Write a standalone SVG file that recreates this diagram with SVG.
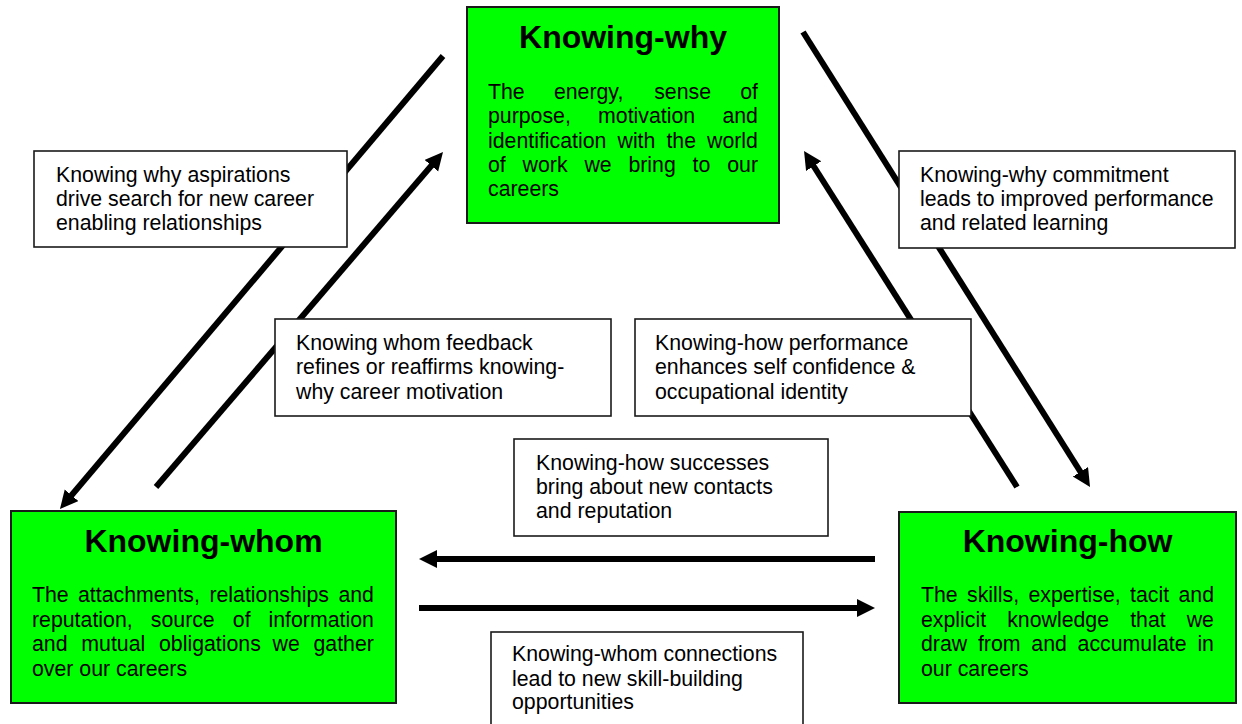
<svg xmlns="http://www.w3.org/2000/svg" width="1242" height="724" viewBox="0 0 1242 724">
  <style>
    .bg { fill: #ffffff; }
    .conn { stroke: #000; stroke-width: 6; fill: none; marker-end: url(#head); }
    .node { fill: #00ff00; stroke: #1a1a1a; stroke-width: 2; }
    .lbl { fill: #ffffff; stroke: #1a1a1a; stroke-width: 1.6; }
    .title { font-family: "Liberation Sans", Arial, sans-serif; font-weight: bold; font-size: 32px; fill: #000; text-anchor: middle; }
    .body { font-family: "Liberation Sans", Arial, sans-serif; font-size: 21.3px; fill: #000; }
  </style>
  <defs>
    <marker id="head" markerUnits="userSpaceOnUse" markerWidth="20" markerHeight="20" refX="2" refY="9" orient="auto">
      <path d="M0,0 L18,9 L0,18 z" fill="#000"/>
    </marker>
  </defs>

  <rect class="bg" x="0" y="0" width="1242" height="724"/>

  <!-- connectors between the three competencies -->
  <g id="connectors">
    <line class="conn" x1="443" y1="56" x2="70.3" y2="496.8"/>
    <line class="conn" x1="156" y1="487" x2="432.6" y2="164.2"/>
    <line class="conn" x1="803" y1="32" x2="1081.5" y2="473.5"/>
    <line class="conn" x1="1017" y1="487" x2="812.6" y2="164.5"/>
    <line class="conn" x1="875" y1="559" x2="435" y2="559"/>
    <line class="conn" x1="419" y1="608" x2="859" y2="608"/>
  </g>

  <!-- connector labels -->
  <g id="label-why-to-whom">
    <rect class="lbl" x="34" y="151" width="313" height="96"/>
    <text class="body"><tspan x="56" y="182">Knowing why aspirations</tspan><tspan x="56" y="206">drive search for new career</tspan><tspan x="56" y="230">enabling relationships</tspan></text>
  </g>
  <g id="label-whom-to-why">
    <rect class="lbl" x="275" y="319" width="336" height="97"/>
    <text class="body"><tspan x="296" y="350">Knowing whom feedback</tspan><tspan x="296" y="374">refines or reaffirms knowing-</tspan><tspan x="296" y="399">why career motivation</tspan></text>
  </g>
  <g id="label-why-to-how">
    <rect class="lbl" x="899" y="151" width="336" height="97"/>
    <text class="body"><tspan x="920" y="182">Knowing-why commitment</tspan><tspan x="920" y="206">leads to improved performance</tspan><tspan x="920" y="230">and related learning</tspan></text>
  </g>
  <g id="label-how-to-why">
    <rect class="lbl" x="635" y="319" width="336" height="97"/>
    <text class="body"><tspan x="655" y="350">Knowing-how performance</tspan><tspan x="655" y="374">enhances self confidence &amp;</tspan><tspan x="655" y="399">occupational identity</tspan></text>
  </g>
  <g id="label-how-to-whom">
    <rect class="lbl" x="514" y="439" width="314" height="97"/>
    <text class="body"><tspan x="536" y="470">Knowing-how successes</tspan><tspan x="536" y="494">bring about new contacts</tspan><tspan x="536" y="518">and reputation</tspan></text>
  </g>
  <g id="label-whom-to-how">
    <rect class="lbl" x="491" y="632" width="312" height="100"/>
    <text class="body"><tspan x="512" y="661">Knowing-whom connections</tspan><tspan x="512" y="686">lead to new skill-building</tspan><tspan x="512" y="709">opportunities</tspan></text>
  </g>

  <!-- competency nodes -->
  <g id="knowing-why">
    <rect class="node" x="467" y="7" width="312" height="216"/>
    <text class="title" x="623" y="48">Knowing-why</text>
    <text class="body">
      <tspan x="488" y="99">The</tspan><tspan x="553.9" y="99">energy,</tspan><tspan x="654.2" y="99">sense</tspan><tspan x="740.2" y="99">of</tspan>
      <tspan x="488" y="123">purpose,</tspan><tspan x="598.1" y="123">motivation</tspan><tspan x="722.4" y="123">and</tspan>
      <tspan x="488" y="148">identification</tspan><tspan x="617.5" y="148">with</tspan><tspan x="666.4" y="148">the</tspan><tspan x="707" y="148">world</tspan>
      <tspan x="488" y="172">of</tspan><tspan x="522.6" y="172">work</tspan><tspan x="584.4" y="172">we</tspan><tspan x="628.4" y="172">bring</tspan><tspan x="692.6" y="172">to</tspan><tspan x="727.2" y="172">our</tspan>
      <tspan x="488" y="196">careers</tspan>
    </text>
  </g>

  <g id="knowing-whom">
    <rect class="node" x="11" y="511" width="385" height="192"/>
    <text class="title" x="203.5" y="552">Knowing-whom</text>
    <text class="body">
      <tspan x="32" y="602">The</tspan><tspan x="78" y="602">attachments,</tspan><tspan x="209.4" y="602">relationships</tspan><tspan x="338.4" y="602">and</tspan>
      <tspan x="32" y="627">reputation,</tspan><tspan x="150.8" y="627">source</tspan><tspan x="232.8" y="627">of</tspan><tspan x="268.5" y="627">information</tspan>
      <tspan x="32" y="651">and</tspan><tspan x="81.3" y="651">mutual</tspan><tspan x="159" y="651">obligations</tspan><tspan x="272.5" y="651">we</tspan><tspan x="313.5" y="651">gather</tspan>
      <tspan x="32" y="676">over our careers</tspan>
    </text>
  </g>

  <g id="knowing-how">
    <rect class="node" x="899" y="512" width="337" height="191"/>
    <text class="title" x="1067.5" y="552">Knowing-how</text>
    <text class="body">
      <tspan x="921" y="602">The</tspan><tspan x="967" y="602">skills,</tspan><tspan x="1028.4" y="602">expertise,</tspan><tspan x="1130.1" y="602">tacit</tspan><tspan x="1178.5" y="602">and</tspan>
      <tspan x="921" y="627">explicit</tspan><tspan x="1007.2" y="627">knowledge</tspan><tspan x="1130.2" y="627">that</tspan><tspan x="1186.7" y="627">we</tspan>
      <tspan x="921" y="651">draw</tspan><tspan x="977.9" y="651">from</tspan><tspan x="1031.3" y="651">and</tspan><tspan x="1077.6" y="651">accumulate</tspan><tspan x="1197.4" y="651">in</tspan>
      <tspan x="921" y="676">our careers</tspan>
    </text>
  </g>
</svg>
